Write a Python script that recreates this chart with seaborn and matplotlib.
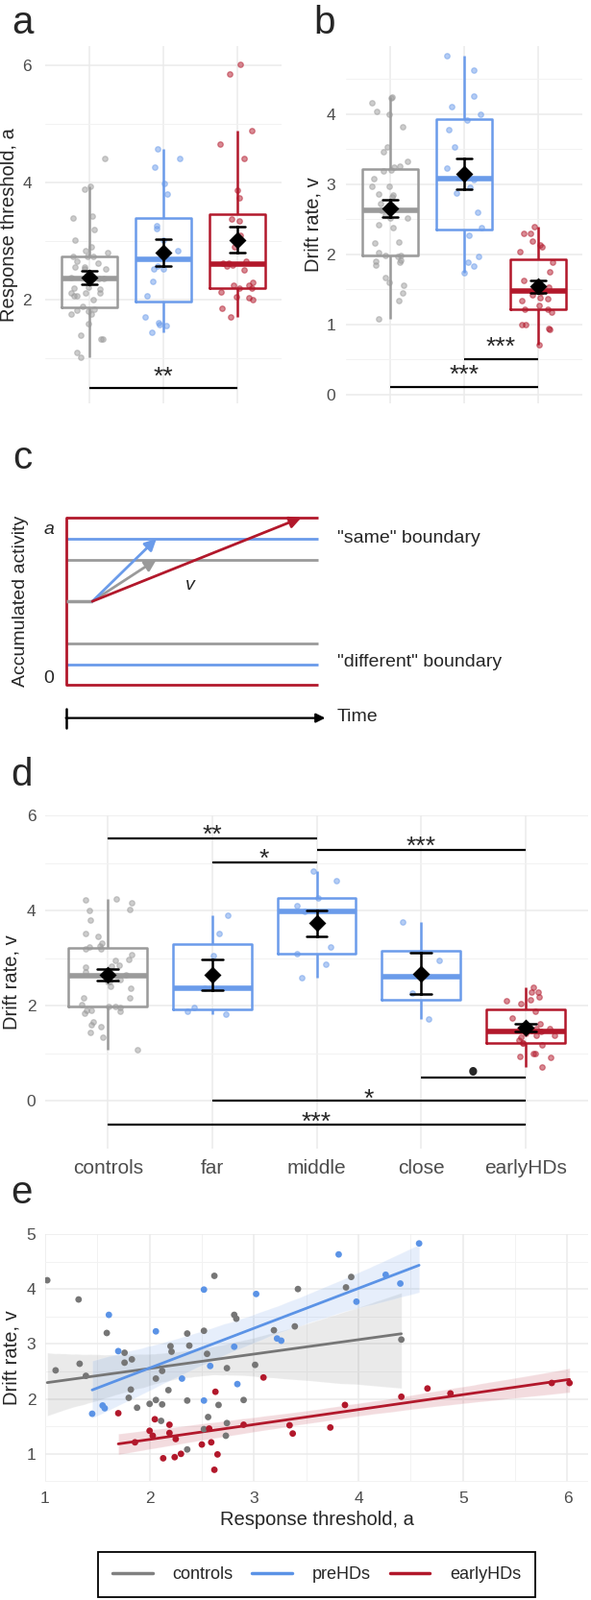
import numpy as np
import pandas as pd
import matplotlib
matplotlib.use("Agg")
import matplotlib.pyplot as plt
from matplotlib.lines import Line2D
import seaborn as sns

# one point per participant: response threshold a, drift rate v
controls_a = [1.02, 1.32, 1.10, 1.33, 1.39, 1.59, 1.76, 1.76, 1.83, 1.82, 1.80, 1.88, 2.00, 2.06, 2.12,
              2.06, 2.12, 2.18, 2.20, 2.21, 2.36, 2.38, 2.36, 2.11, 2.36, 2.52, 2.55, 2.62, 2.74, 2.66,
              2.56, 2.52, 2.74, 2.73, 2.81, 2.83, 3.01, 2.90, 3.19, 3.39, 3.42, 3.88, 3.93, 4.41]
controls_v = [4.16, 3.81, 2.52, 2.64, 2.42, 3.20, 2.84, 2.66, 2.72, 2.17, 2.02, 1.84, 1.91, 1.98, 1.90,
              2.37, 2.51, 2.16, 2.96, 2.86, 3.19, 2.97, 1.97, 1.60, 1.08, 3.24, 2.82, 4.24, 2.56, 1.89,
              1.67, 1.45, 1.56, 1.33, 3.53, 3.46, 2.62, 1.98, 3.25, 3.32, 4.00, 4.03, 4.22, 3.08]
prehd_a = [1.61, 1.45, 1.55, 1.57, 1.70, 2.06, 2.31, 2.52, 2.58, 2.52, 3.02, 2.81, 2.84, 3.22, 3.26,
           3.81, 3.98, 4.26, 4.40, 4.58]
prehd_v = [3.53, 1.73, 1.88, 1.83, 2.87, 3.23, 2.37, 3.99, 2.60, 1.97, 3.91, 2.95, 2.27, 3.10, 3.06,
           4.63, 3.77, 4.26, 4.10, 4.83]
prehd_stage = ["far", "close", "far", "far", "middle", "middle", "far", "middle", "middle", "far",
               "far", "close", "close", "middle", "far", "middle", "close", "middle", "middle", "middle"]
early_a = [1.70, 1.86, 2.05, 2.00, 2.03, 2.19, 2.19, 2.25, 2.13, 2.24, 2.30, 2.50, 2.57, 2.59, 2.65,
           2.62, 2.63, 3.09, 2.90, 3.34, 3.37, 3.73, 3.87, 4.41, 4.66, 4.88, 5.85, 6.02]
early_v = [1.74, 1.21, 1.63, 1.42, 1.33, 1.53, 1.38, 1.27, 0.92, 0.94, 1.00, 1.17, 1.46, 1.21, 0.99,
           0.71, 2.13, 2.39, 1.53, 1.52, 1.37, 1.48, 1.89, 2.04, 2.19, 2.10, 2.29, 2.29]

groups = ["controls", "preHDs", "earlyHDs"]
stages = ["controls", "far", "middle", "close", "earlyHDs"]

# significance brackets: (from, to, bar height, text height, label)
sig_a = [(0, 2, 0.50, 0.80, "**")]
sig_b = [(1, 2, 0.50, 0.78, "***"), (0, 2, 0.10, 0.38, "***")]
sig_d = [(0, 2, 5.53, 5.75, "**"), (1, 2, 5.02, 5.24, "*"), (2, 4, 5.27, 5.51, "***"),
         (3, 4, 0.49, 0.62, "•"), (1, 4, 0.00, 0.20, "*"), (0, 4, -0.50, -0.29, "***")]

# drift diffusion schematic (panel c): boundaries per group, arrow end time
bound_upper = [0.75, 0.875, 1.0]
bound_lower = [0.25, 0.125, 0.0]
arrow_end_t = [0.36, 0.36, 0.935]
start_t = 0.105
start_y = 0.5

box_pal = {"controls": "#9A9A9A", "preHDs": "#6A9BEA", "earlyHDs": "#B2182B"}
dot_pal = {"controls": "#767676", "preHDs": "#5B93E6", "earlyHDs": "#B2182B"}
stage_pal = {"controls": "#9A9A9A", "far": "#6A9BEA", "middle": "#6A9BEA",
             "close": "#6A9BEA", "earlyHDs": "#B2182B"}

df = pd.DataFrame({
    "group": ["controls"] * len(controls_a) + ["preHDs"] * len(prehd_a) + ["earlyHDs"] * len(early_a),
    "a": controls_a + prehd_a + early_a,
    "v": controls_v + prehd_v + early_v,
    "stage": ["controls"] * len(controls_a) + prehd_stage + ["earlyHDs"] * len(early_a),
})

sns.set_style("white")
plt.rcParams["font.family"] = ["Liberation Sans", "DejaVu Sans"]

W, H = 615, 1666
fig = plt.figure(figsize=(W / 100, H / 100), dpi=100)


def px_axes(x0, y0, x1, y1):
    return fig.add_axes([x0 / W, 1 - y1 / H, (x1 - x0) / W, (y1 - y0) / H])


def style(ax, major, minor, pad=7):
    for s in ax.spines.values():
        s.set_visible(False)
    ax.set_yticks(major)
    ax.set_yticks(minor, minor=True)
    ax.grid(True, which="major", color="#EBEBEB", lw=1.1)
    ax.grid(True, which="minor", axis="y", color="#F2F2F2", lw=0.7)
    ax.tick_params(which="both", length=0, labelsize=12.5, labelcolor="#4D4D4D", pad=pad)
    ax.set_axisbelow(True)


def brackets(ax, sigs, size=19):
    for x1, x2, yb, yt, lab in sigs:
        ax.plot([x1, x2], [yb, yb], color="black", lw=1.6, solid_capstyle="butt", zorder=6)
        fs = 22 if lab == "•" else size
        off = -0.33 * fs if lab == "•" else -0.57 * fs
        ax.annotate(lab, xy=((x1 + x2) / 2, yt), xytext=(0, off), textcoords="offset points",
                    ha="center", va="baseline", fontsize=fs, zorder=7)


def box_panel(ax, xcol, ycol, order, pal, jitter=0.25):
    sns.boxplot(data=df, x=xcol, y=ycol, order=order, hue=xcol, hue_order=order, palette=pal,
                fill=False, width=0.75, linewidth=1.8, showfliers=False, legend=False,
                medianprops={"linewidth": 4}, capprops={"linewidth": 0, "visible": False}, ax=ax)
    for cat in order:
        sub = df[df[xcol] == cat]
        sns.stripplot(data=sub, x=xcol, y=ycol, order=order, color=pal[cat], edgecolor=pal[cat],
                      jitter=jitter, size=4, alpha=0.5, linewidth=0.9, ax=ax, zorder=3)
    sns.pointplot(data=df, x=xcol, y=ycol, order=order, estimator="mean", errorbar="se",
                  color="black", markers="D", linestyle="none", capsize=0.2, markersize=7,
                  err_kws={"linewidth": 1.8, "zorder": 10}, zorder=11, ax=ax)
    ax.set_xlim(-0.6, len(order) - 0.4)


# ---- panel a
ax_a = px_axes(47, 47.7, 293, 420)
box_panel(ax_a, "group", "a", groups, box_pal)
ax_a.set_ylim(0.23, 6.33)
style(ax_a, [2, 4, 6], [1, 3, 5], pad=10)
ax_a.set_xticks(range(3))
ax_a.set_xticklabels([])
ax_a.set_xlabel("")
ax_a.set_ylabel("Response threshold, a", fontsize=14.5)
ax_a.yaxis.set_label_coords(-0.115, 0.5)
brackets(ax_a, sig_a)

# ---- panel b
ax_b = px_axes(360, 47.7, 606, 420)
box_panel(ax_b, "group", "v", groups, box_pal)
ax_b.set_ylim(-0.13, 4.97)
style(ax_b, [0, 1, 2, 3, 4], [0.5, 1.5, 2.5, 3.5, 4.5], pad=8)
ax_b.set_xticks(range(3))
ax_b.set_xticklabels([])
ax_b.set_xlabel("")
ax_b.set_ylabel("Drift rate, v", fontsize=14.5)
ax_b.yaxis.set_label_coords(-0.10, 0.5)
brackets(ax_b, sig_b)

# ---- panel c: schematic
ax_c = px_axes(68.6, 539, 330.6, 713.3)
ax_c.set_xlim(0, 1)
ax_c.set_ylim(0, 1)
ax_c.axis("off")
for g, up, lo in zip(groups, bound_upper, bound_lower):
    ax_c.plot([0, 1], [up, up], color=box_pal[g], lw=2, clip_on=False, solid_capstyle="butt")
    ax_c.plot([0, 1], [lo, lo], color=box_pal[g], lw=2, clip_on=False, solid_capstyle="butt")
ax_c.plot([0, 0], [0, 1], color=box_pal["earlyHDs"], lw=2, clip_on=False)
ax_c.plot([0, start_t], [start_y, start_y], color=box_pal["controls"], lw=2.5, clip_on=False,
          solid_capstyle="butt")
for g, up, t in zip(groups, bound_upper, arrow_end_t):
    ax_c.annotate("", xy=(t, up), xytext=(start_t, start_y),
                  arrowprops=dict(arrowstyle="-|>", color=box_pal[g], lw=2, mutation_scale=18,
                                  shrinkA=0, shrinkB=0), annotation_clip=False)
ax_c.text(-0.067, 0.93, "a", style="italic", fontsize=14, ha="center", va="center")
ax_c.text(-0.067, 0.04, "0", fontsize=14, ha="center", va="center")
ax_c.text(0.494, 0.593, "v", style="italic", fontsize=14, ha="center", va="center")
ax_c.text(1.078, 0.875, '"same" boundary', fontsize=14, ha="left", va="center")
ax_c.text(1.078, 0.134, '"different" boundary', fontsize=14, ha="left", va="center")
ax_c.text(-0.179, 0.5, "Accumulated activity", fontsize=14, rotation=90, ha="center", va="center")
ax_c.annotate("", xy=(1.03, -0.197), xytext=(0, -0.197),
              arrowprops=dict(arrowstyle="-|>", color="black", lw=1.6, mutation_scale=14,
                              shrinkA=0, shrinkB=0), annotation_clip=False)
ax_c.plot([0, 0], [-0.143, -0.258], color="black", lw=1.8, clip_on=False)
ax_c.text(1.078, -0.19, "Time", fontsize=14, ha="left", va="center")

# ---- panel d
ax_d = px_axes(47, 849.3, 612, 1195.8)
box_panel(ax_d, "stage", "v", stages, stage_pal, jitter=0.28)
ax_d.set_ylim(-1.0, 6.0)
style(ax_d, [0, 2, 4, 6], [-1, 1, 3, 5], pad=7)
ax_d.set_xticks(range(5))
ax_d.set_xticklabels(stages)
ax_d.tick_params(axis="x", labelsize=15, pad=8)
ax_d.set_xlabel("")
ax_d.set_ylabel("Drift rate, v", fontsize=14.5)
ax_d.yaxis.set_label_coords(-0.046, 0.5)
brackets(ax_d, sig_d)

# ---- panel e
ax_e = px_axes(47, 1285, 612, 1543)
for g in groups:
    sub = df[df["group"] == g]
    sns.regplot(data=sub, x="a", y="v", scatter=False, ci=95, seed=1, color=dot_pal[g],
                line_kws={"linewidth": 2}, ax=ax_e)
sns.scatterplot(data=df, x="a", y="v", hue="group", hue_order=groups, palette=dot_pal, s=24,
                linewidth=0, legend=False, ax=ax_e, zorder=3)
ax_e.set_xlim(1.0, 6.198)
ax_e.set_ylim(0.49, 5.0)
style(ax_e, [1, 2, 3, 4, 5], np.arange(0.5, 5.0, 1.0), pad=7)
ax_e.set_xticks([1, 2, 3, 4, 5, 6])
ax_e.set_xticks([1.5, 2.5, 3.5, 4.5, 5.5], minor=True)
ax_e.grid(True, which="minor", axis="x", color="#F2F2F2", lw=0.7)
ax_e.set_xlabel("Response threshold, a", fontsize=14.5)
ax_e.set_ylabel("Drift rate, v", fontsize=14.5)
ax_e.xaxis.set_label_coords(0.5, -0.115)
ax_e.yaxis.set_label_coords(-0.046, 0.5)

# ---- legend
handles = [Line2D([0], [0], color=c, lw=2.5) for c in ["#808080", "#5B93E6", "#B2182B"]]
leg = fig.legend(handles, groups, loc="center", bbox_to_anchor=(329.5 / W, 1 - 1639.5 / H), ncol=3,
                 fontsize=13, handlelength=2.3, handletextpad=1.15, columnspacing=1.1,
                 borderpad=0.85, fancybox=False, edgecolor="black", framealpha=1)
leg.get_frame().set_linewidth(1.3)

# ---- panel letters
for lab, x, y in [("a", 12, 35), ("b", 326, 35), ("c", 13, 488), ("d", 11, 818), ("e", 11, 1253)]:
    fig.text(x / W, 1 - y / H, lab, fontsize=29, ha="left", va="baseline")

fig.savefig("out.png", dpi=100)
